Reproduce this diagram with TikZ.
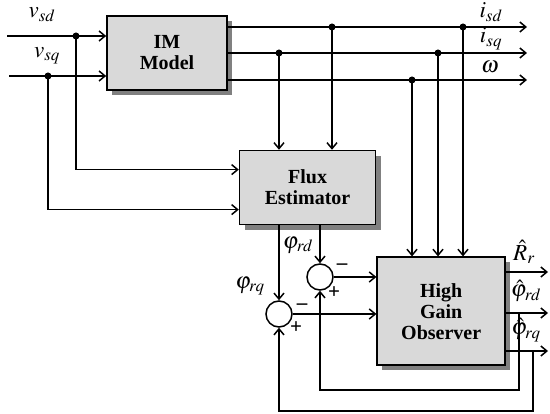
\documentclass[tikz,border=0pt]{standalone}
\usepackage{mathptmx}
\usepackage{fontspec}
\setmainfont{Liberation Serif}
\usetikzlibrary{shapes,arrows.meta,positioning,shadows}

\begin{document}
\begin{tikzpicture}[
    x=1pt,y=-1pt,
    line width=1.5pt,
    >={Straight Barb[length=6pt,width=10pt]},
    block/.style={rectangle,draw,line width=1.6pt,fill=black!15,inner sep=0pt,
                  drop shadow={shadow xshift=5pt,shadow yshift=-5pt,fill=black!50,opacity=1},
                  align=center,font=\fontsize{20}{21}\selectfont\bfseries},
    sum/.style={circle,draw,minimum size=26pt,inner sep=0pt},
    dot/.style={circle,fill,minimum size=7pt,inner sep=0pt},
    lbl/.style={font=\fontsize{23}{24}\selectfont,inner sep=0pt},
    sgn/.style={font=\fontsize{21}{21}\selectfont\bfseries,inner sep=0pt},
]
\useasboundingbox (0,0) rectangle (550,414);
\node[block,minimum width=120pt,minimum height=74pt] (im) at (167,53) {IM\\Model};
\node[block,minimum width=136pt,minimum height=74pt,below right=59pt and 11pt of im] (flux) {Flux\\Estimator};
\node[block,minimum width=128pt,minimum height=108pt,below right=31pt and 0pt of flux] (hgo) {High\\Gain\\Observer};
\node[sum] (sum1) at (320,277) {};
\node[sum] (sum2) at (279,314) {};

\coordinate (vsdin) at (7,36);
\coordinate (vsqin) at (9,76);
\node[dot] (dsd) at (76,36) {};
\node[dot] (dsq) at (48,76) {};
\draw[->] (vsdin) -- (vsdin -| im.west);
\draw[->] (vsqin) -- (vsqin -| im.west);
\draw[->] (dsd.center) |- ([yshift=18pt]flux.west);
\draw[->] (dsq.center) |- ([yshift=-22pt]flux.west);

\coordinate (isd) at (527,27);
\coordinate (isq) at (527,53);
\coordinate (om) at (527,80);
\draw[->] (isd -| im.east) -- (isd);
\draw[->] (isq -| im.east) -- (isq);
\draw[->] (om -| im.east) -- (om);
\node[dot] (d1) at (332,27) {};
\node[dot] (d2) at (463,27) {};
\node[dot] (d3) at (279,53) {};
\node[dot] (d4) at (438,53) {};
\node[dot] (d5) at (412,80) {};
\draw[->] (d1.center) -- (d1 |- flux.north);
\draw[->] (d3.center) -- (d3 |- flux.north);
\draw[->] (d2.center) -- (d2 |- hgo.north);
\draw[->] (d4.center) -- (d4 |- hgo.north);
\draw[->] (d5.center) -- (d5 |- hgo.north);

\draw[->] (sum1 |- flux.south) -- (sum1.north);
\draw[->] (sum2 |- flux.south) -- (sum2.north);
\draw[->] (sum1.east) -- (sum1 -| hgo.west);
\draw[->] (sum2.east) -- (sum2 -| hgo.west);

\coordinate (rr) at (548,272);
\coordinate (prd) at (548,313);
\coordinate (prq) at (548,351);
\draw[->] (rr -| hgo.east) -- (rr);
\draw[->] (prd -| hgo.east) -- (prd);
\draw[->] (prq -| hgo.east) -- (prq);
\coordinate (fb1) at (519,313);
\coordinate (fb2) at (533,351);
\draw[->] (fb1) -- ++(0,77) -| (sum1.south);
\draw[->] (fb2) -- ++(0,60) -| (sum2.south);

\node[lbl] at (42,15) {$v_{sd}$};
\node[lbl] at (47,56) {$v_{sq}$};
\node[lbl] at (491,12) {$i_{sd}$};
\node[lbl] at (491,39) {$i_{sq}$};
\node[lbl] at (490,67) {$\omega$};
\node[lbl] at (298,245) {$\varphi_{rd}$};
\node[lbl] at (250,286) {$\varphi_{rq}$};
\node[lbl] at (524,252) {$\hat{R}_r$};
\node[lbl] at (526,291) {$\hat{\varphi}_{rd}$};
\node[lbl] at (526,330) {$\hat{\varphi}_{rq}$};
\node[sgn] at (342,267) {--};
\node[sgn] at (334,293) {+};
\node[sgn] at (302,307) {--};
\node[sgn] at (296,328) {+};
\end{tikzpicture}
\end{document}
